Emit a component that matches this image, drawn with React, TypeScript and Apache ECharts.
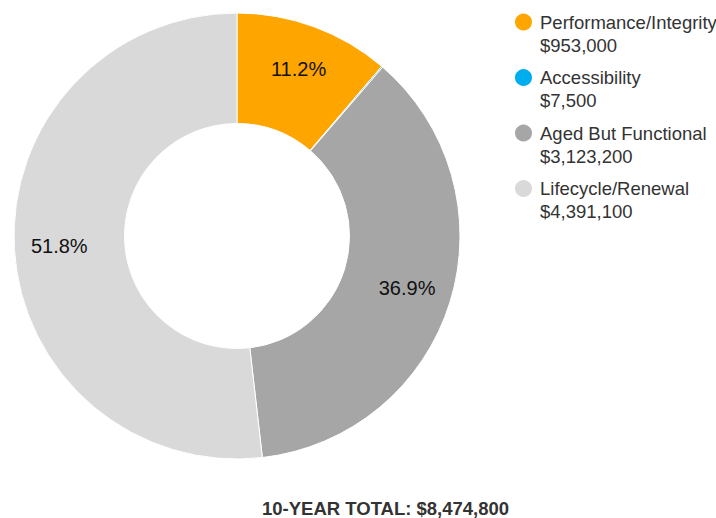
import React, { useEffect, useRef } from "react";
import * as echarts from "echarts";

const categories = ["Performance/Integrity", "Accessibility", "Aged But Functional", "Lifecycle/Renewal"];
const values = [953000, 7500, 3123200, 4391100];
const colors = ["#FFA500", "#00AEEF", "#A6A6A6", "#D9D9D9"];
const totalLabel = "10-YEAR TOTAL: $8,474,800";

const FONT = "'Liberation Sans', Arial, Helvetica, sans-serif";

export default function App() {
  const ref = useRef<HTMLDivElement>(null);
  useEffect(() => {
    document.body.style.margin = "0";
    const chart = echarts.init(ref.current!, null, { renderer: "svg" });
    const total = values.reduce((a, b) => a + b, 0);
    const data = categories.map((name, i) => ({ name, value: values[i], itemStyle: { color: colors[i] } }));
    const fmtMoney = (v: number) => "$" + v.toLocaleString("en-US");
    chart.setOption({
      animation: false,
      title: {
        text: totalLabel,
        left: 262,
        top: 499,
        padding: 0,
        textStyle: { fontFamily: FONT, fontSize: 18.5, fontWeight: "bold", color: "#333" },
      },
      legend: {
        orient: "vertical",
        left: 513,
        top: -12.5,
        padding: 0,
        itemWidth: 19,
        itemHeight: 19,
        itemGap: -13.5,
        icon: "circle",
        data: categories,
        selectedMode: false,
        formatter: (name: string) => "\u00a0\n" + name + "\n" + fmtMoney(values[categories.indexOf(name)]),
        textStyle: {
          fontFamily: FONT,
          fontSize: 18.5,
          lineHeight: 23,
          color: "#333",
          padding: [0, 0, 0, 2],
        },
      },
      series: [
        {
          type: "pie",
          center: [237, 236],
          radius: [112.5, 223],
          startAngle: 90,
          clockwise: true,
          silent: true,
          data,
          label: { show: false },
          labelLine: { show: false },
          itemStyle: { borderColor: "#fff", borderWidth: 1 },
        },
        {
          type: "pie",
          center: [237, 236],
          radius: [140, 210],
          startAngle: 90,
          clockwise: true,
          silent: true,
          data: categories.map((name, i) => ({ name, value: values[i], itemStyle: { color: "rgba(0,0,0,0)" } })),
          label: {
            show: true,
            position: "inside",
            fontFamily: FONT,
            fontSize: 20,
            color: "#111",
            formatter: (p: any) => {
              const pct = (p.value / total) * 100;
              return pct < 1 ? "" : pct.toFixed(1) + "%";
            },
          },
          labelLine: { show: false },
        },
      ],
    });
    return () => chart.dispose();
  }, []);
  return <div ref={ref} style={{ width: 716, height: 518 }} />;
}
